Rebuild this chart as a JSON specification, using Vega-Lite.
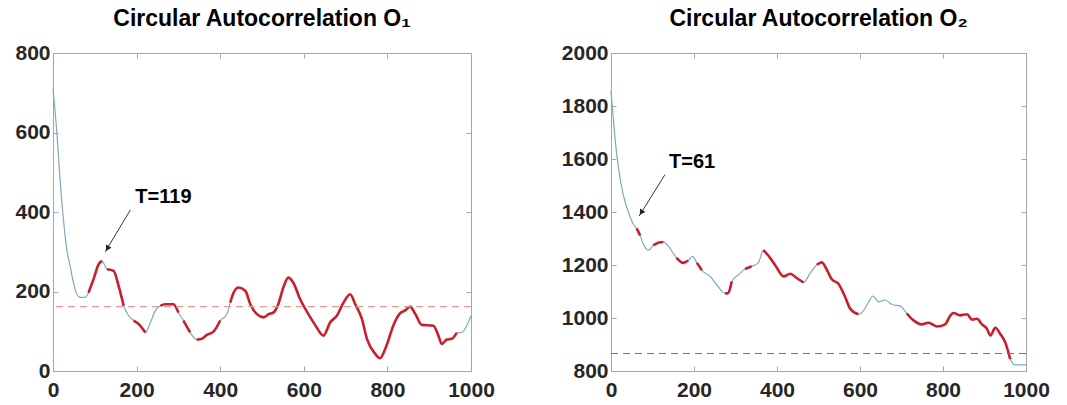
{
  "$schema": "https://vega.github.io/schema/vega-lite/v6.json",
  "background": "white",
  "padding": {"left": 14, "top": 7, "right": 5, "bottom": 5},
  "bounds": "flush",
  "spacing": 140,
  "config": {
    "view": {"stroke": "#a6a6a6", "strokeWidth": 1},
    "axis": {
      "labelFont": "Liberation Sans", "labelFontSize": 21, "labelFontWeight": "bold", "labelColor": "#262626",
      "domainColor": "#a6a6a6", "tickColor": "#a6a6a6", "tickSize": -5, "grid": false, "title": null, "labelFlush": false, "format": "d"
    },
    "title": {"font": "Liberation Sans", "fontSize": 23, "fontWeight": "bold", "color": "#000000", "anchor": "middle", "offset": 11}
  },
  "datasets": {
    "o1": [
      {"x":0,"y":710},{"x":10,"y":589},{"x":17,"y":481},{"x":25,"y":381},{"x":33,"y":306},{"x":41,"y":264},{"x":49,"y":222},{"x":57,"y":193},{"x":65,"y":185},{"x":77,"y":185},{"x":85,"y":197},{"x":97,"y":231},{"x":109,"y":268},{"x":117,"y":277},{"x":129,"y":256},{"x":145,"y":252},{"x":157,"y":214},{"x":169,"y":164},{"x":181,"y":139},{"x":193,"y":127},{"x":205,"y":118},{"x":221,"y":97},{"x":233,"y":122},{"x":245,"y":152},{"x":257,"y":164},{"x":268,"y":168},{"x":288,"y":168},{"x":300,"y":147},{"x":312,"y":127},{"x":328,"y":97},{"x":344,"y":79},{"x":356,"y":81},{"x":368,"y":91},{"x":384,"y":99},{"x":400,"y":127},{"x":416,"y":143},{"x":424,"y":172},{"x":432,"y":197},{"x":444,"y":210},{"x":460,"y":202},{"x":472,"y":168},{"x":488,"y":143},{"x":504,"y":135},{"x":516,"y":143},{"x":527,"y":147},{"x":539,"y":168},{"x":551,"y":210},{"x":563,"y":235},{"x":575,"y":222},{"x":591,"y":181},{"x":611,"y":143},{"x":627,"y":116},{"x":647,"y":89},{"x":663,"y":122},{"x":679,"y":139},{"x":695,"y":172},{"x":711,"y":193},{"x":723,"y":168},{"x":739,"y":131},{"x":751,"y":81},{"x":771,"y":43},{"x":782,"y":32},{"x":798,"y":64},{"x":814,"y":114},{"x":830,"y":145},{"x":842,"y":152},{"x":854,"y":162},{"x":867,"y":143},{"x":882,"y":116},{"x":910,"y":114},{"x":922,"y":89},{"x":930,"y":68},{"x":942,"y":79},{"x":954,"y":81},{"x":966,"y":96},{"x":978,"y":97},{"x":990,"y":114},{"x":1000,"y":139}
    ],
    "o1red": [
      {"s":1,"x":85,"y":197},{"s":1,"x":97,"y":231},{"s":1,"x":109,"y":268},{"s":1,"x":117,"y":277},
      {"s":2,"x":129,"y":256},{"s":2,"x":145,"y":252},{"s":2,"x":157,"y":214},{"s":2,"x":169,"y":164},
      {"s":3,"x":193,"y":127},{"s":3,"x":205,"y":118},{"s":3,"x":221,"y":97},
      {"s":4,"x":257,"y":164},{"s":4,"x":268,"y":168},{"s":4,"x":288,"y":168},{"s":4,"x":300,"y":147},
      {"s":5,"x":312,"y":127},{"s":5,"x":328,"y":97},
      {"s":6,"x":344,"y":79},{"s":6,"x":356,"y":81},{"s":6,"x":368,"y":91},{"s":6,"x":384,"y":99},{"s":6,"x":400,"y":127},
      {"s":7,"x":424,"y":172},{"s":7,"x":432,"y":197},{"s":7,"x":444,"y":210},{"s":7,"x":460,"y":202},{"s":7,"x":472,"y":168},{"s":7,"x":488,"y":143},{"s":7,"x":504,"y":135},{"s":7,"x":516,"y":143},{"s":7,"x":527,"y":147},{"s":7,"x":539,"y":168},{"s":7,"x":551,"y":210},{"s":7,"x":563,"y":235},{"s":7,"x":575,"y":222},{"s":7,"x":591,"y":181},{"s":7,"x":611,"y":143},{"s":7,"x":627,"y":116},{"s":7,"x":647,"y":89},{"s":7,"x":663,"y":122},{"s":7,"x":679,"y":139},{"s":7,"x":695,"y":172},{"s":7,"x":711,"y":193},{"s":7,"x":723,"y":168},{"s":7,"x":739,"y":131},{"s":7,"x":751,"y":81},{"s":7,"x":771,"y":43},{"s":7,"x":782,"y":32},{"s":7,"x":798,"y":64},{"s":7,"x":814,"y":114},{"s":7,"x":830,"y":145},{"s":7,"x":842,"y":152},{"s":7,"x":854,"y":162},{"s":7,"x":867,"y":143},{"s":7,"x":882,"y":116},{"s":7,"x":910,"y":114},{"s":7,"x":922,"y":89},{"s":7,"x":930,"y":68},{"s":7,"x":942,"y":79},{"s":7,"x":954,"y":81},{"s":7,"x":966,"y":96}
    ],
    "o2": [
      {"x":0,"y":1857},{"x":6,"y":1743},{"x":14,"y":1615},{"x":22,"y":1526},{"x":30,"y":1462},{"x":42,"y":1399},{"x":54,"y":1354},{"x":62,"y":1338},{"x":70,"y":1312},{"x":78,"y":1278},{"x":90,"y":1256},{"x":102,"y":1274},{"x":114,"y":1284},{"x":126,"y":1287},{"x":138,"y":1271},{"x":158,"y":1227},{"x":174,"y":1208},{"x":186,"y":1217},{"x":197,"y":1233},{"x":207,"y":1208},{"x":219,"y":1180},{"x":239,"y":1157},{"x":255,"y":1125},{"x":275,"y":1093},{"x":281,"y":1093},{"x":291,"y":1138},{"x":307,"y":1163},{"x":323,"y":1185},{"x":339,"y":1195},{"x":355,"y":1208},{"x":367,"y":1256},{"x":379,"y":1236},{"x":395,"y":1201},{"x":416,"y":1157},{"x":432,"y":1167},{"x":448,"y":1150},{"x":464,"y":1134},{"x":480,"y":1169},{"x":496,"y":1201},{"x":508,"y":1210},{"x":520,"y":1182},{"x":532,"y":1146},{"x":548,"y":1129},{"x":564,"y":1080},{"x":576,"y":1036},{"x":596,"y":1014},{"x":609,"y":1029},{"x":621,"y":1061},{"x":631,"y":1083},{"x":645,"y":1061},{"x":661,"y":1068},{"x":677,"y":1051},{"x":697,"y":1045},{"x":713,"y":1017},{"x":729,"y":991},{"x":749,"y":976},{"x":765,"y":982},{"x":786,"y":968},{"x":805,"y":976},{"x":818,"y":1010},{"x":825,"y":1019},{"x":841,"y":1010},{"x":858,"y":1014},{"x":870,"y":994},{"x":882,"y":997},{"x":894,"y":976},{"x":906,"y":959},{"x":914,"y":934},{"x":926,"y":963},{"x":938,"y":940},{"x":950,"y":908},{"x":962,"y":845},{"x":974,"y":823},{"x":1000,"y":823}
    ],
    "o2red": [
      {"s":1,"x":62,"y":1338},{"s":1,"x":70,"y":1312},
      {"s":2,"x":102,"y":1274},{"s":2,"x":114,"y":1284},{"s":2,"x":126,"y":1287},
      {"s":3,"x":158,"y":1227},{"s":3,"x":174,"y":1208},{"s":3,"x":186,"y":1217},
      {"s":4,"x":207,"y":1208},{"s":4,"x":219,"y":1180},
      {"s":5,"x":275,"y":1093},{"s":5,"x":281,"y":1093},{"s":5,"x":291,"y":1138},
      {"s":6,"x":323,"y":1185},{"s":6,"x":339,"y":1195},
      {"s":7,"x":367,"y":1256},{"s":7,"x":379,"y":1236},{"s":7,"x":395,"y":1201},{"s":7,"x":416,"y":1157},{"s":7,"x":432,"y":1167},{"s":7,"x":448,"y":1150},{"s":7,"x":464,"y":1134},
      {"s":8,"x":496,"y":1201},{"s":8,"x":508,"y":1210},{"s":8,"x":520,"y":1182},{"s":8,"x":532,"y":1146},{"s":8,"x":548,"y":1129},{"s":8,"x":564,"y":1080},{"s":8,"x":576,"y":1036},{"s":8,"x":596,"y":1014},
      {"s":9,"x":713,"y":1017},{"s":9,"x":729,"y":991},{"s":9,"x":749,"y":976},{"s":9,"x":765,"y":982},{"s":9,"x":786,"y":968},{"s":9,"x":805,"y":976},{"s":9,"x":818,"y":1010},{"s":9,"x":825,"y":1019},{"s":9,"x":841,"y":1010},{"s":9,"x":858,"y":1014},{"s":9,"x":870,"y":994},{"s":9,"x":882,"y":997},{"s":9,"x":894,"y":976},{"s":9,"x":906,"y":959},{"s":9,"x":914,"y":934},{"s":9,"x":926,"y":963},{"s":9,"x":938,"y":940},{"s":9,"x":950,"y":908},{"s":9,"x":962,"y":845}
    ],
    "a1": [{"x":197,"y":437,"label":"T=119","x1":185,"y1":405,"x2":125,"y2":300,"hx":130,"hy":308}],
    "a2": [{"x":140,"y":1587,"label":"T=61","x1":130,"y1":1541,"x2":68,"y2":1385,"hx":73,"hy":1398}],
    "t1": [{"y":162}],
    "t2": [{"y":866}]
  },
  "hconcat": [
    {
      "width": 418, "height": 318,
      "title": {"text": "Circular Autocorrelation O₁"},
      "resolve": {"axis": {"x": "independent", "y": "independent"}},
      "layer": [
        {
          "data": {"name": "o1"},
          "mark": {"type": "line", "color": "#7fa9bb", "strokeWidth": 1.2, "interpolate": "monotone"},
          "encoding": {
            "x": {"field": "x", "type": "quantitative", "scale": {"domain": [0, 1000], "nice": false}, "axis": {"values": [0,200,400,600,800,1000], "labelPadding": 13}},
            "y": {"field": "y", "type": "quantitative", "scale": {"domain": [0, 800], "nice": false}, "axis": {"values": [0,200,400,600,800], "labelPadding": 8}}
          }
        },
        {
          "data": {"name": "o1red"},
          "mark": {"type": "line", "color": "#c8202a", "strokeWidth": 2.6, "interpolate": "monotone"},
          "encoding": {
            "x": {"field": "x", "type": "quantitative", "axis": {"orient": "top", "labels": false, "domain": false, "values": [0,200,400,600,800,1000]}},
            "y": {"field": "y", "type": "quantitative", "axis": {"orient": "right", "labels": false, "domain": false, "values": [0,200,400,600,800]}},
            "detail": {"field": "s", "type": "nominal"}
          }
        },
        {
          "data": {"name": "t1"},
          "mark": {"type": "rule", "color": "#e59a9a", "strokeWidth": 1.2, "strokeDash": [7, 5]},
          "encoding": {"y": {"field": "y", "type": "quantitative", "axis": null}}
        },
        {
          "data": {"name": "a1"},
          "layer": [
            {"mark": {"type": "rule", "color": "#333333", "strokeWidth": 1},
             "encoding": {"x": {"field": "x1", "type": "quantitative", "axis": null}, "y": {"field": "y1", "type": "quantitative", "axis": null}, "x2": {"field": "x2"}, "y2": {"field": "y2"}}},
            {"mark": {"type": "point", "shape": "triangle-up", "filled": true, "color": "#222222", "size": 40, "angle": 211, "opacity": 1},
             "encoding": {"x": {"field": "hx", "type": "quantitative", "axis": null}, "y": {"field": "hy", "type": "quantitative", "axis": null}}},
            {"mark": {"type": "text", "align": "left", "baseline": "middle", "font": "Liberation Sans", "fontSize": 20, "fontWeight": "bold", "color": "#000000"},
             "encoding": {"x": {"field": "x", "type": "quantitative", "axis": null}, "y": {"field": "y", "type": "quantitative", "axis": null}, "text": {"field": "label"}}}
          ]
        }
      ]
    },
    {
      "width": 415, "height": 318,
      "title": {"text": "Circular Autocorrelation O₂"},
      "resolve": {"axis": {"x": "independent", "y": "independent"}},
      "layer": [
        {
          "data": {"name": "o2"},
          "mark": {"type": "line", "color": "#7fa9bb", "strokeWidth": 1.2, "interpolate": "monotone"},
          "encoding": {
            "x": {"field": "x", "type": "quantitative", "scale": {"domain": [0, 1000], "nice": false}, "axis": {"values": [0,200,400,600,800,1000], "labelPadding": 13}},
            "y": {"field": "y", "type": "quantitative", "scale": {"domain": [800, 2000], "nice": false, "zero": false}, "axis": {"values": [800,1000,1200,1400,1600,1800,2000], "labelPadding": 8}}
          }
        },
        {
          "data": {"name": "o2red"},
          "mark": {"type": "line", "color": "#c8202a", "strokeWidth": 2.6, "interpolate": "monotone"},
          "encoding": {
            "x": {"field": "x", "type": "quantitative", "axis": {"orient": "top", "labels": false, "domain": false, "values": [0,200,400,600,800,1000]}},
            "y": {"field": "y", "type": "quantitative", "axis": {"orient": "right", "labels": false, "domain": false, "values": [800,1000,1200,1400,1600,1800,2000]}},
            "detail": {"field": "s", "type": "nominal"}
          }
        },
        {
          "data": {"name": "t2"},
          "mark": {"type": "rule", "color": "#b55a5a", "strokeWidth": 1.2, "strokeDash": [7, 5]},
          "encoding": {"y": {"field": "y", "type": "quantitative", "axis": null}}
        },
        {
          "data": {"name": "a2"},
          "layer": [
            {"mark": {"type": "rule", "color": "#333333", "strokeWidth": 1},
             "encoding": {"x": {"field": "x1", "type": "quantitative", "axis": null}, "y": {"field": "y1", "type": "quantitative", "axis": null}, "x2": {"field": "x2"}, "y2": {"field": "y2"}}},
            {"mark": {"type": "point", "shape": "triangle-up", "filled": true, "color": "#222222", "size": 40, "angle": 212, "opacity": 1},
             "encoding": {"x": {"field": "hx", "type": "quantitative", "axis": null}, "y": {"field": "hy", "type": "quantitative", "axis": null}}},
            {"mark": {"type": "text", "align": "left", "baseline": "middle", "font": "Liberation Sans", "fontSize": 20, "fontWeight": "bold", "color": "#000000"},
             "encoding": {"x": {"field": "x", "type": "quantitative", "axis": null}, "y": {"field": "y", "type": "quantitative", "axis": null}, "text": {"field": "label"}}}
          ]
        }
      ]
    }
  ]
}
